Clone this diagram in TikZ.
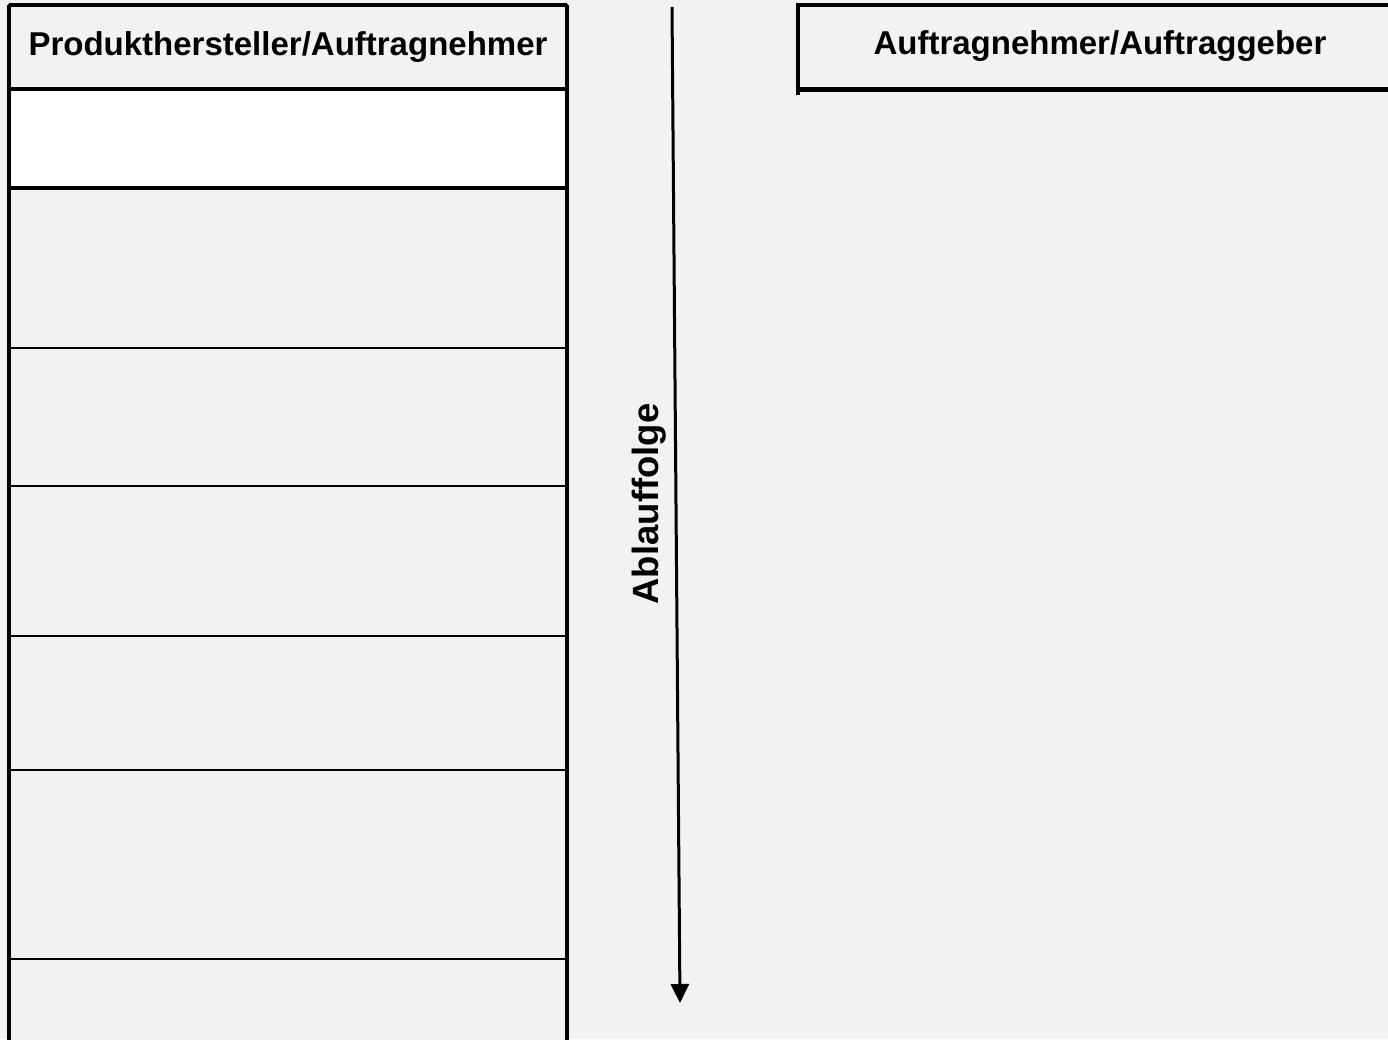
\documentclass[tikz,border=0pt]{standalone}
\usepackage{fontspec}
\setmainfont{Liberation Sans}
\usetikzlibrary{positioning,arrows.meta}
\definecolor{bggray}{HTML}{F2F2F2}
\tikzset{
  row/.style={draw, line width=2pt, fill=bggray, minimum width=558pt,
    inner sep=0pt, outer sep=0pt},
  frame/.style={line width=4.5pt},
  head/.style={font=\fontsize{33}{40}\selectfont\bfseries},
}
\begin{document}
\begin{tikzpicture}[x=1pt,y=-1pt]
    \fill[bggray] (0,0) rectangle (1388,1039);
    \useasboundingbox (0,0) rectangle (1388,1039);

    \node[row, head, minimum height=84pt, anchor=north west]
    (H) at (9,5) {Produkthersteller/Auftragnehmer};
    \node[row, fill=white, minimum height=99pt, below=0pt of H] (R0) {};
    \node[row, minimum height=160pt, below=0pt of R0] (R1) {};
    \node[row, minimum height=138pt, below=0pt of R1] (R2) {};
    \node[row, minimum height=150pt, below=0pt of R2] (R3) {};
    \node[row, minimum height=134pt, below=0pt of R3] (R4) {};
    \node[row, minimum height=189pt, below=0pt of R4] (R5) {};
    \node[row, minimum height=110pt, below=0pt of R5] (R6) {};

    \draw[frame] (H.north west) -- (R6.south west);
    \draw[frame] (H.north east) -- (R6.south east);
    \draw[frame] (H.north west) -- (H.north east);
    \draw[frame] (H.south west) -- (H.south east);
    \draw[frame] (R0.south west) -- (R0.south east);

    \node[head, minimum width=600pt, minimum height=84pt, inner sep=0pt,
      anchor=north west] (AG) at (798,5) {};
    \node[head] (AGt) at (1100,46) {Auftragnehmer/Auftraggeber};
    \draw[frame] (AG.north east) -- (AG.north west) -- ([yshift=-6pt]AG.south west);
    \draw[frame] (AG.south west) -- (AG.south east);

    \coordinate (start) at (672,7);
    \coordinate (stop) at (680,1003);
    \draw[line width=3pt, -{Triangle[length=19pt,width=18pt]}] (start) -- (stop);
    \node[head, rotate=90, font=\fontsize{36.5}{40}\selectfont\bfseries]
    (AF) at (649,504) {Ablauffolge};
  \end{tikzpicture}
\end{document}
